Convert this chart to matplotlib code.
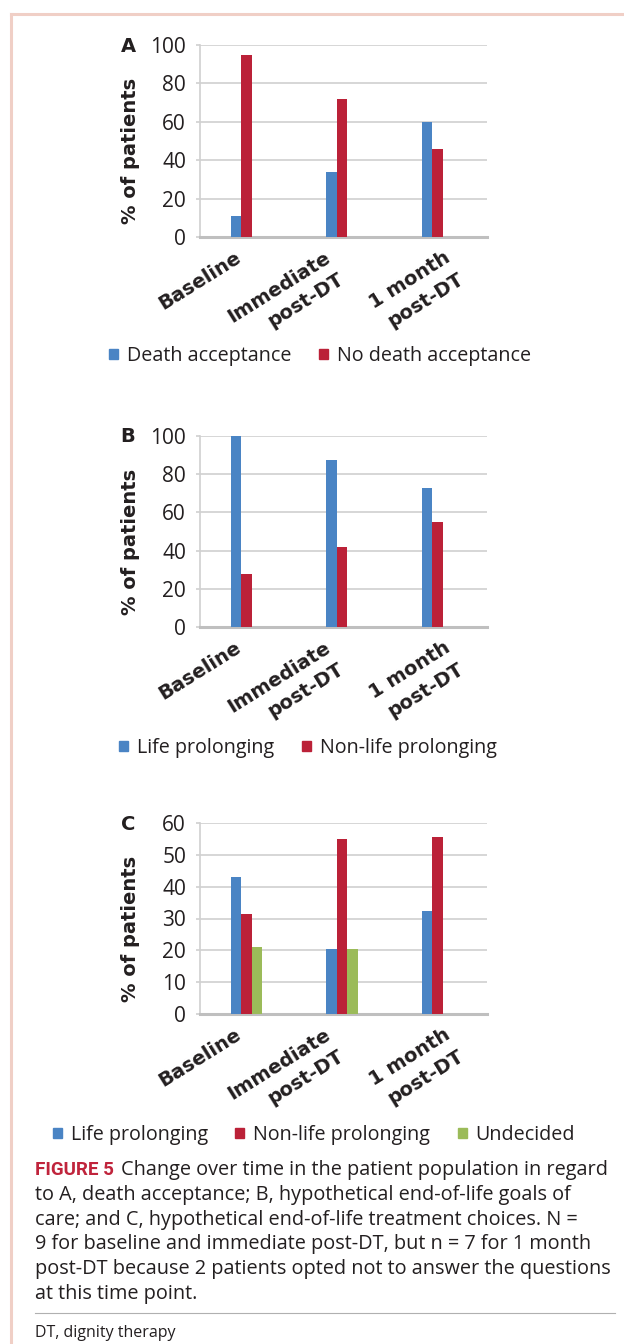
import matplotlib
matplotlib.use('Agg')
import matplotlib.pyplot as plt
from matplotlib.patches import Patch
from matplotlib.lines import Line2D
import matplotlib.transforms as mtransforms

W, H = 624, 1344

# data
periods = ['Baseline', 'Immediate\npost-DT', '1 month\npost-DT']

acc_yes = [11, 34, 60]
acc_no = [95, 72, 46]

goals_life = [100, 87.5, 73]
goals_nonlife = [28, 42, 55]

treat_life = [43, 20.5, 32.5]
treat_nonlife = [31.5, 55, 55.5]
treat_undecided = [21, 20.5, None]

BLUE = '#4a84c4'
RED = '#bb2138'
GREEN = '#9bbb59'
GRID = '#d0d0d0'
TXT = '#231f20'

LIGHT = 'Open Sans'
BOLD = 'DejaVu Sans'

# label nudges in px (the rotated labels do not sit evenly under the groups)
label_dx = [-13, -20, 4]

fig = plt.figure(figsize=(W / 100, H / 100), dpi=100)


def px(x, y):
    return x / W, 1 - y / H


def panel(top, bottom, letter, series, colors, ymax, step, names, leg_x, leg_y):
    left, right = 200, 487
    ax = fig.add_axes([left / W, 1 - bottom / H, (right - left) / W, (bottom - top) / H])
    w = 0.11
    for j, (vals, c) in enumerate(zip(series, colors)):
        for i, v in enumerate(vals):
            if v is None:
                continue
            ax.bar(i + (j - 1) * w - 0.015, v, width=w, color=c, zorder=3)
    ax.set_xlim(-0.5, 2.5)
    ax.set_ylim(0, ymax)
    ax.set_yticks(range(0, ymax + 1, step))
    ax.set_yticklabels([str(t) for t in range(0, ymax + 1, step)],
                       fontsize=15, family=LIGHT, color=TXT)
    ax.yaxis.grid(True, color=GRID, lw=1.2, zorder=0)
    ax.tick_params(axis='y', length=3, color=GRID, width=1.2, pad=7)
    ax.tick_params(axis='x', length=0, labelbottom=False)
    for s in ['top', 'right']:
        ax.spines[s].set_visible(False)
    ax.spines['left'].set_color(GRID)
    ax.spines['left'].set_linewidth(1.2)
    ax.spines['bottom'].set_color('#bfbfbf')
    ax.spines['bottom'].set_linewidth(2.2)

    # rotated category labels, right-aligned lines
    tr = mtransforms.blended_transform_factory(ax.transData, ax.transAxes)
    for i, lab in enumerate(periods):
        off = mtransforms.ScaledTranslation(label_dx[i] / 100, -11 / 100, fig.dpi_scale_trans)
        ax.text(i, 0, lab, transform=tr + off, rotation=32, rotation_mode='anchor',
                ha='right', va='top', multialignment='right',
                fontsize=14, family=BOLD, fontweight='bold', color=TXT,
                linespacing=1.45)

    fig.text(*px(130, (top + bottom) / 2 + 10), '% of patients', rotation=90,
             ha='center', va='center', fontsize=14, family=BOLD,
             fontweight='bold', color=TXT)
    fig.text(*px(128, top + 1), letter, ha='center', va='center',
             fontsize=14, family=BOLD, fontweight='bold', color=TXT)

    handles = [Patch(color=c, label=n) for c, n in zip(colors, names)]
    fig.legend(handles=handles, loc='center', bbox_to_anchor=px(leg_x, leg_y),
               ncol=len(names), frameon=False, handlelength=0.45,
               handleheight=0.45, handletextpad=0.45, columnspacing=1.4,
               prop={'family': LIGHT, 'size': 14.2}, labelcolor=TXT)
    return ax


panel(45, 237, 'A', [acc_yes, acc_no], [BLUE, RED], 100, 20,
      ['Death acceptance', 'No death acceptance'], 320, 356)
panel(436, 627, 'B', [goals_life, goals_nonlife], [BLUE, RED], 100, 20,
      ['Life prolonging', 'Non-life prolonging'], 308, 748)
panel(823, 1014, 'C', [treat_life, treat_nonlife, treat_undecided],
      [BLUE, RED, GREEN], 60, 10,
      ['Life prolonging', 'Non-life prolonging', 'Undecided'], 314, 1135)

# caption
caption = [
    'Change over time in the patient population in regard',
    'to A, death acceptance; B, hypothetical end-of-life goals of',
    'care; and C, hypothetical end-of-life treatment choices. N =',
    '9 for baseline and immediate post-DT, but n = 7 for 1 month',
    'post-DT because 2 patients opted not to answer the questions',
    'at this time point.',
]
head = fig.text(*px(35, 1175), 'FIGURE 5', ha='left', va='baseline', fontsize=13.5,
                family='Roboto', fontweight='bold', color='#c0243c')
fig.canvas.draw()
x_end = head.get_window_extent().x1
for k, line in enumerate(caption):
    x0 = x_end + 7 if k == 0 else 35
    fig.text(*px(x0, 1175 + 24.8 * k), line, ha='left', va='baseline',
             fontsize=14.3, family=LIGHT, color=TXT)

fig.add_artist(Line2D([35 / W, 615 / W], [1 - 1313 / H] * 2, color='#b0b0b0', lw=0.8))
fig.text(*px(35, 1337), 'DT, dignity therapy', ha='left', va='baseline',
         fontsize=11.5, family=LIGHT, color=TXT)

# pink frame
frame = '#f0cfc6'
fig.add_artist(Line2D([11 / W, 1], [1 - 14 / H] * 2, color=frame, lw=2.2))
fig.add_artist(Line2D([11 / W] * 2, [1 - 14 / H, 0], color=frame, lw=2.2))

fig.savefig('out.png', dpi=100)
